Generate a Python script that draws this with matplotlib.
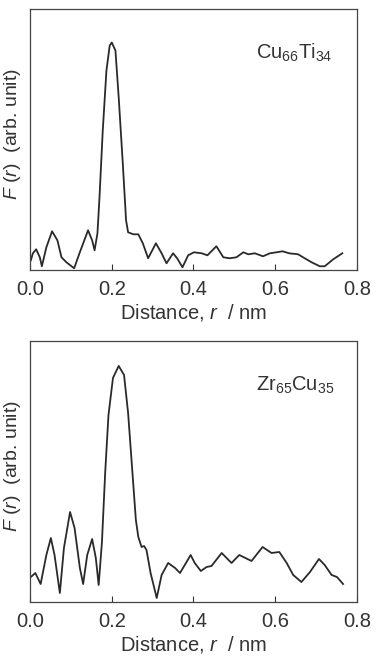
import matplotlib
matplotlib.use("Agg")
import matplotlib.pyplot as plt

# F(r) traces (r in nm, F in arb. units)
r_cuti = [0.002, 0.007, 0.015, 0.024, 0.029, 0.040, 0.054, 0.067, 0.077, 0.089,
          0.108, 0.121, 0.142, 0.152, 0.158, 0.165, 0.170, 0.178, 0.187, 0.195,
          0.200, 0.209, 0.217, 0.227, 0.235, 0.240, 0.253, 0.265, 0.276, 0.289,
          0.308, 0.322, 0.334, 0.350, 0.360, 0.373, 0.387, 0.401, 0.420, 0.434,
          0.456, 0.473, 0.489, 0.505, 0.522, 0.534, 0.550, 0.570, 0.587, 0.603,
          0.618, 0.634, 0.656, 0.668, 0.689, 0.709, 0.721, 0.742, 0.764]
f_cuti = [10, 17, 21, 13, 4, 23, 39, 30, 13, 8,
          2, 17, 40, 30, 20, 37, 73, 140, 200, 225,
          228, 220, 173, 107, 50, 38, 36, 36, 27, 12,
          27, 17, 7, 17, 12, 3, 15, 18, 17, 15,
          24, 13, 12, 13, 18, 16, 17, 14, 17, 18,
          19, 17, 16, 13, 8, 4, 4, 11, 17]

r_zrcu = [0.002, 0.013, 0.026, 0.040, 0.051, 0.060, 0.073, 0.083, 0.098, 0.109,
          0.122, 0.130, 0.140, 0.152, 0.161, 0.168, 0.176, 0.184, 0.192, 0.203,
          0.217, 0.230, 0.240, 0.259, 0.265, 0.273, 0.279, 0.285, 0.295, 0.310,
          0.322, 0.338, 0.355, 0.367, 0.383, 0.393, 0.403, 0.418, 0.432, 0.444,
          0.469, 0.493, 0.512, 0.542, 0.569, 0.591, 0.610, 0.628, 0.644, 0.664,
          0.685, 0.707, 0.721, 0.738, 0.751, 0.766]
f_zrcu = [25, 29, 18, 47, 64, 47, 9, 54, 90, 74,
          34, 18, 47, 63, 44, 17, 60, 130, 187, 224,
          236, 227, 189, 82, 65, 55, 56, 52, 29, 4,
          27, 39, 34, 29, 40, 47, 39, 31, 35, 36,
          49, 39, 47, 41, 55, 49, 50, 39, 27, 20,
          30, 43, 37, 27, 25, 18]

xticks = [0.0, 0.2, 0.4, 0.6, 0.8]
tick_labels = ["0.0", "0.2", "0.4", "0.6", "0.8"]

plt.rcParams["font.family"] = ["Liberation Sans", "DejaVu Sans"]
plt.rcParams["mathtext.fontset"] = "custom"
plt.rcParams["mathtext.rm"] = "Liberation Sans"
plt.rcParams["mathtext.it"] = "Liberation Sans:italic"

fs = 14.5
ink = "#333333"

fig = plt.figure(figsize=(3.78, 6.56), dpi=100)

panels = [
    ([0.0794, 0.588, 0.865, 0.399], r_cuti, f_cuti, 262, r"Cu$_{66}$Ti$_{34}$"),
    ([0.0794, 0.0823, 0.865, 0.398], r_zrcu, f_zrcu, 261, r"Zr$_{65}$Cu$_{35}$"),
]

for pos, r, f, ytop, name in panels:
    ax = fig.add_axes(pos)
    ax.plot(r, f, color="#2a2a2a", lw=1.3, solid_joinstyle="round")
    ax.set_xlim(0, 0.8)
    ax.set_ylim(0, ytop)
    ax.set_xticks(xticks)
    ax.set_xticklabels(tick_labels)
    ax.set_yticks([])
    ax.tick_params(axis="x", direction="in", length=4, width=0.8,
                   labelsize=fs, colors=ink, pad=7)
    for s in ax.spines.values():
        s.set_color("#444444")
        s.set_linewidth(0.9)
    ax.set_xlabel(r"Distance, $\it{r}$  / nm", fontsize=fs, color=ink,
                  labelpad=2)
    ax.set_ylabel(r"$\it{F}$ ($\it{r}$)  (arb. unit)", fontsize=14, color=ink)
    ax.yaxis.set_label_coords(-0.02, 0.52)
    ax.text(0.69, 0.83, name, transform=ax.transAxes, fontsize=fs,
            color=ink, va="center", ha="left")

fig.savefig("out.png", dpi=100)
